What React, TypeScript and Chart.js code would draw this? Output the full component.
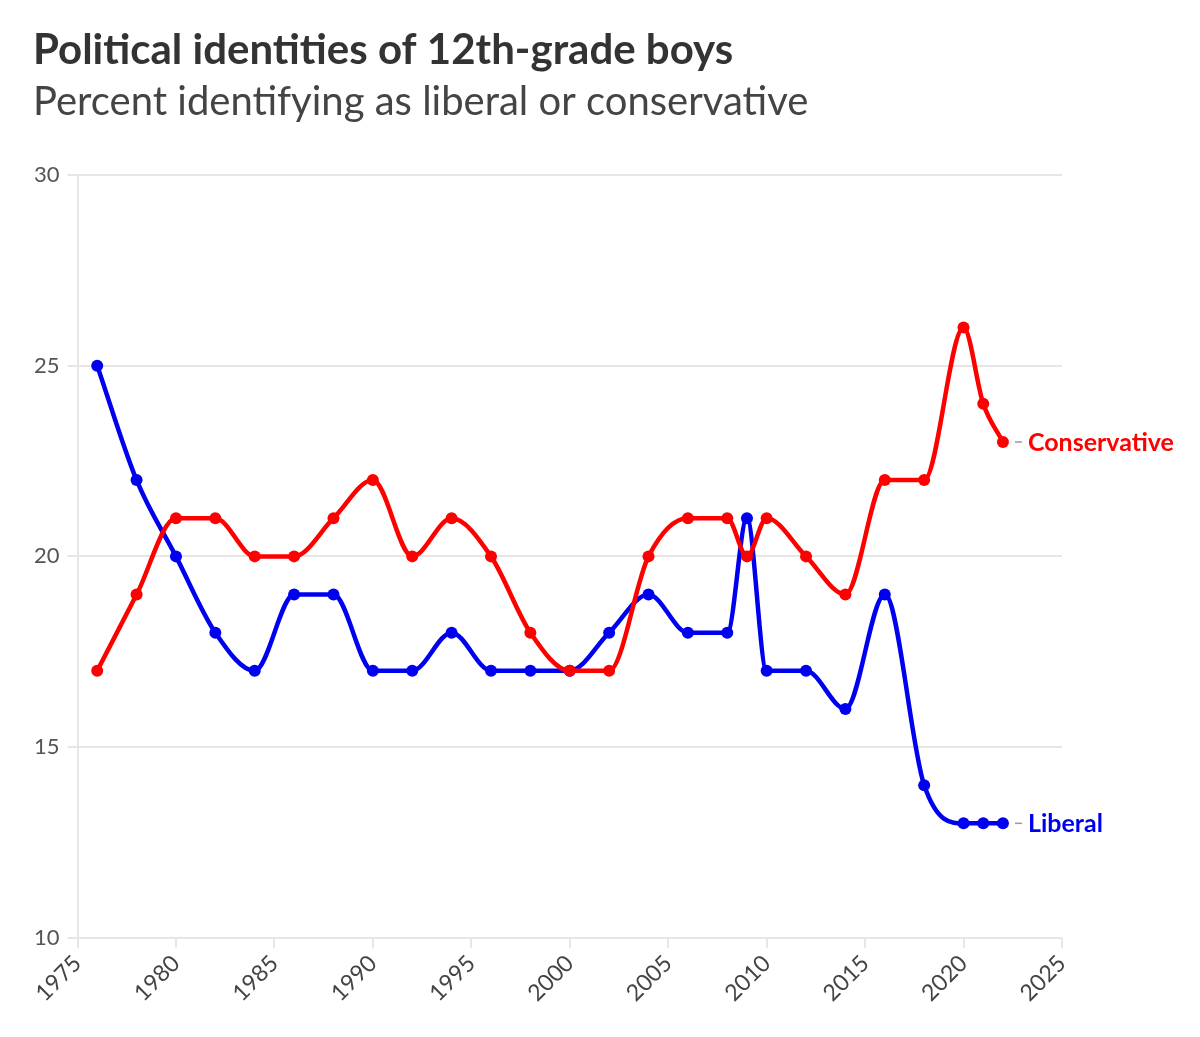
import { useEffect, useRef } from 'react';
import { Chart, registerables, Plugin } from 'chart.js';

Chart.register(...registerables);

// survey years and percent values
const years = [1976, 1978, 1980, 1982, 1984, 1986, 1988, 1990, 1992, 1994, 1996, 1998, 2000, 2002, 2004, 2006, 2008, 2009, 2010, 2012, 2014, 2016, 2018, 2020, 2021, 2022];
const conservative = [17, 19, 21, 21, 20, 20, 21, 22, 20, 21, 20, 18, 17, 17, 20, 21, 21, 20, 21, 20, 19, 22, 22, 26, 24, 23];
const liberal = [25, 22, 20, 18, 17, 19, 19, 17, 17, 18, 17, 17, 17, 18, 19, 18, 18, 21, 17, 17, 16, 19, 14, 13, 13, 13];

const seriesNames = ['Conservative', 'Liberal'];
const seriesColors = ['#ff0000', '#0000f0'];

const titleText = 'Political identities of 12th-grade boys';
const subtitleText = 'Percent identifying as liberal or conservative';

const FONT = 'Lato, "Noto Sans", sans-serif';

const headerPlugin: Plugin<'line'> = {
  id: 'header',
  afterDraw(chart) {
    const ctx = chart.ctx;
    ctx.save();
    ctx.textAlign = 'left';
    ctx.textBaseline = 'alphabetic';
    ctx.fillStyle = '#333333';
    ctx.font = `bold 42px ${FONT}`;
    ctx.fillText(titleText, 33, 64);
    ctx.fillStyle = '#444444';
    ctx.font = `40px ${FONT}`;
    ctx.fillText(subtitleText, 33, 115);
    ctx.restore();
  },
};

const endLabelPlugin: Plugin<'line'> = {
  id: 'endLabels',
  afterDatasetsDraw(chart) {
    const ctx = chart.ctx;
    ctx.save();
    chart.data.datasets.forEach((ds, i) => {
      const meta = chart.getDatasetMeta(i);
      const last = meta.data[meta.data.length - 1];
      if (!last) return;
      const { x, y } = last.getProps(['x', 'y'], true);
      ctx.strokeStyle = '#999999';
      ctx.lineWidth = 1.5;
      ctx.beginPath();
      ctx.moveTo(x + 12, y);
      ctx.lineTo(x + 19, y);
      ctx.stroke();
      ctx.fillStyle = ds.borderColor as string;
      ctx.font = `bold 25px ${FONT}`;
      ctx.textBaseline = 'middle';
      ctx.textAlign = 'left';
      ctx.fillText(ds.label || '', x + 25, y + 1);
    });
    ctx.restore();
  },
};

export default function App() {
  const canvasRef = useRef<HTMLCanvasElement>(null);
  const chartRef = useRef<Chart<'line'> | null>(null);

  useEffect(() => {
    const ctx = canvasRef.current?.getContext('2d');
    if (!ctx) return;

    const seriesValues = [conservative, liberal];

    chartRef.current = new Chart(ctx, {
      type: 'line',
      data: {
        datasets: seriesValues.map((vals, i) => ({
          label: seriesNames[i],
          data: years.map((yr, j) => ({ x: yr, y: vals[j] })),
          borderColor: seriesColors[i],
          backgroundColor: seriesColors[i],
          borderWidth: 4.5,
          pointRadius: 6,
          pointHoverRadius: 6,
          pointBorderWidth: 0,
          cubicInterpolationMode: 'monotone' as const,
          fill: false,
        })),
      },
      options: {
        animation: false,
        responsive: false,
        maintainAspectRatio: false,
        layout: { padding: { top: 175, left: 26, right: 138, bottom: 28 } },
        plugins: {
          legend: { display: false },
          tooltip: { enabled: false },
          title: { display: false },
        },
        scales: {
          x: {
            type: 'linear',
            min: 1975,
            max: 2025,
            ticks: {
              stepSize: 5,
              minRotation: 45,
              maxRotation: 45,
              color: '#444444',
              font: { family: FONT, size: 23 },
              padding: 2,
              callback: (v) => String(v),
            },
            grid: {
              drawOnChartArea: false,
              drawTicks: true,
              tickLength: 10,
              color: '#e6e6e6',
              lineWidth: 2,
            },
            border: { display: false },
          },
          y: {
            min: 10,
            max: 30,
            ticks: {
              stepSize: 5,
              color: '#555555',
              font: { family: FONT, size: 22 },
              padding: 8,
            },
            grid: {
              color: '#e6e6e6',
              lineWidth: 2,
              drawTicks: true,
              tickLength: 10,
            },
            border: { display: true, color: '#e6e6e6', width: 2 },
          },
        },
      },
      plugins: [headerPlugin, endLabelPlugin],
    });

    return () => {
      chartRef.current?.destroy();
      chartRef.current = null;
    };
  }, []);

  return (
    <div style={{ position: 'absolute', left: 0, top: 0, width: 1200, height: 1037, background: '#ffffff' }}>
      <canvas ref={canvasRef} width={1200} height={1037} style={{ width: 1200, height: 1037 }} />
    </div>
  );
}
